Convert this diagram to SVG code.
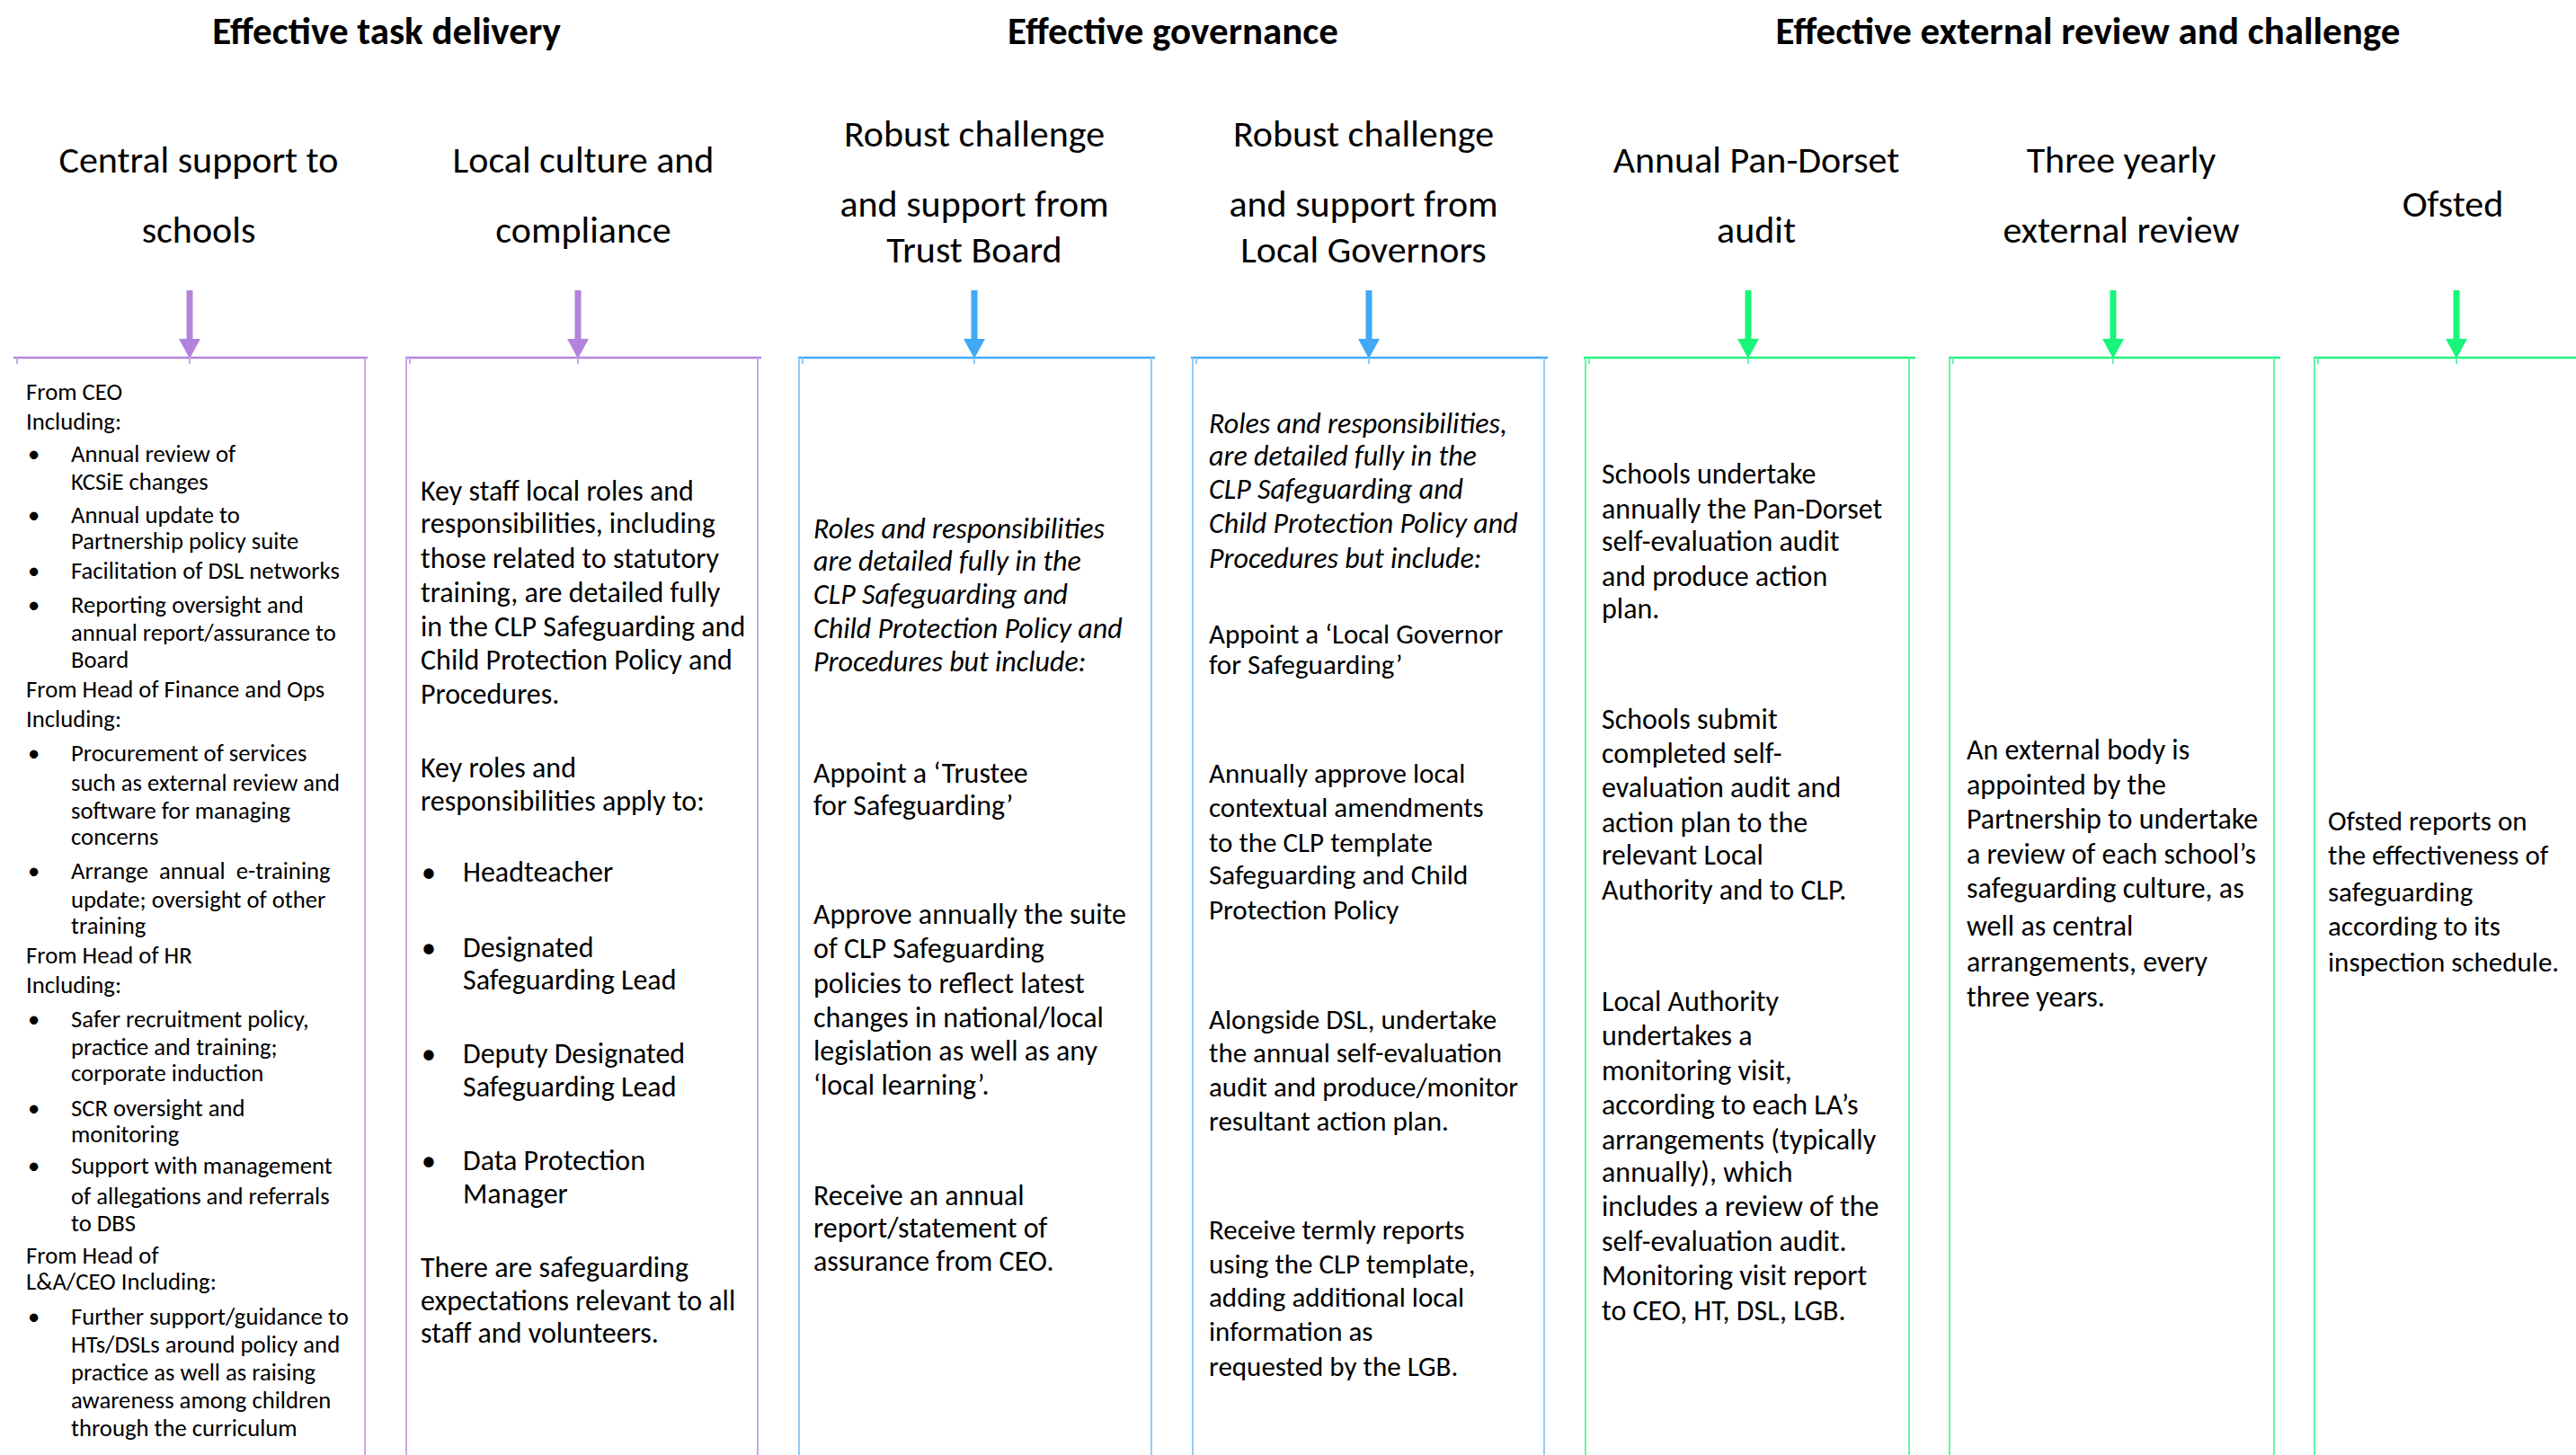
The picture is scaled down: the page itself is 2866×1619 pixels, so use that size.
<svg xmlns="http://www.w3.org/2000/svg" width="2866" height="1619" viewBox="0 0 2866 1619">
<style>
text{font-family:Carlito,"Liberation Sans",sans-serif;fill:#000}
.title{font-size:43px;font-weight:bold;text-anchor:middle}
.sub{font-size:42px;text-anchor:middle}
.b1{font-size:26.7px}
.b{font-size:32px}
.b7{font-size:31px}
.i{font-style:italic}
.pl{stroke:#b586dd;stroke-width:2.5;fill:none}
.pv{stroke:#c9a8e8;stroke-width:2;fill:none}
.bl{stroke:#45abf6;stroke-width:2.5;fill:none}
.bv{stroke:#93cbf8;stroke-width:2;fill:none}
.gl{stroke:#22f47f;stroke-width:2.5;fill:none}
.gv{stroke:#66f5a6;stroke-width:2;fill:none}
.ap{stroke:#b384db;stroke-width:7}
.ab{stroke:#3fa9f5;stroke-width:7}
.ag{stroke:#19f57a;stroke-width:7}
</style>
<defs>
<marker id="hp" markerUnits="userSpaceOnUse" markerWidth="23" markerHeight="24" viewBox="0 0 22 24" refX="0" refY="12" orient="auto"><path d="M0,0 L22,12 L0,24 z" fill="#b384db"/></marker>
<marker id="hb" markerUnits="userSpaceOnUse" markerWidth="23" markerHeight="24" viewBox="0 0 22 24" refX="0" refY="12" orient="auto"><path d="M0,0 L22,12 L0,24 z" fill="#3fa9f5"/></marker>
<marker id="hg" markerUnits="userSpaceOnUse" markerWidth="23" markerHeight="24" viewBox="0 0 22 24" refX="0" refY="12" orient="auto"><path d="M0,0 L22,12 L0,24 z" fill="#19f57a"/></marker>
</defs>
<rect width="2866" height="1619" fill="#fff"/>

<g id="section-titles">
<text class="title" x="430" y="49">Effective task delivery</text>
<text class="title" x="1305" y="49">Effective governance</text>
<text class="title" x="2323" y="49">Effective external review and challenge</text>
</g>

<g id="hdr-central"><text class="sub" x="221" y="192">Central support to</text><text class="sub" x="221" y="270">schools</text></g>
<g id="hdr-local"><text class="sub" x="649" y="192">Local culture and</text><text class="sub" x="649" y="270">compliance</text></g>
<g id="hdr-trust"><text class="sub" x="1084" y="163">Robust challenge</text><text class="sub" x="1084" y="241">and support from</text><text class="sub" x="1084" y="292">Trust Board</text></g>
<g id="hdr-governors"><text class="sub" x="1517" y="163">Robust challenge</text><text class="sub" x="1517" y="241">and support from</text><text class="sub" x="1517" y="292">Local Governors</text></g>
<g id="hdr-pandorset"><text class="sub" x="1954" y="192">Annual Pan-Dorset</text><text class="sub" x="1954" y="270">audit</text></g>
<g id="hdr-threeyearly"><text class="sub" x="2360" y="192">Three yearly</text><text class="sub" x="2360" y="270">external review</text></g>
<g id="hdr-ofsted"><text class="sub" x="2729" y="241">Ofsted</text></g>

<g id="connectors">
<line class="ap" x1="211" y1="323" x2="211" y2="377" marker-end="url(#hp)"/>
<line class="ap" x1="643" y1="323" x2="643" y2="377" marker-end="url(#hp)"/>
<line class="ab" x1="1084" y1="323" x2="1084" y2="377" marker-end="url(#hb)"/>
<line class="ab" x1="1523" y1="323" x2="1523" y2="377" marker-end="url(#hb)"/>
<line class="ag" x1="1945" y1="323" x2="1945" y2="377" marker-end="url(#hg)"/>
<line class="ag" x1="2351" y1="323" x2="2351" y2="377" marker-end="url(#hg)"/>
<line class="ag" x1="2733" y1="323" x2="2733" y2="377" marker-end="url(#hg)"/>
</g>

<g id="box-central">
<path class="pl" d="M15,398 H409"/>
<path class="pv" d="M406,398 V1619 M19,398 v7 M211,398 v7"/>
<text class="b1" x="29" y="445">From CEO</text>
<text class="b1" x="29" y="478">Including:</text>
<text class="b1" x="31" y="514">•</text><text class="b1" x="79" y="514">Annual review of</text>
<text class="b1" x="79" y="545">KCSiE changes</text>
<text class="b1" x="31" y="582">•</text><text class="b1" x="79" y="582">Annual update to</text>
<text class="b1" x="79" y="611">Partnership policy suite</text>
<text class="b1" x="31" y="644">•</text><text class="b1" x="79" y="644">Facilitation of DSL networks</text>
<text class="b1" x="31" y="682">•</text><text class="b1" x="79" y="682">Reporting oversight and</text>
<text class="b1" x="79" y="713">annual report/assurance to</text>
<text class="b1" x="79" y="743">Board</text>
<text class="b1" x="29" y="776">From Head of Finance and Ops</text>
<text class="b1" x="29" y="809">Including:</text>
<text class="b1" x="31" y="847">•</text><text class="b1" x="79" y="847">Procurement of services</text>
<text class="b1" x="79" y="880">such as external review and</text>
<text class="b1" x="79" y="911">software for managing</text>
<text class="b1" x="79" y="940">concerns</text>
<text class="b1" x="31" y="978">•</text><text class="b1" x="79" y="978" xml:space="preserve">Arrange  annual  e-training</text>
<text class="b1" x="79" y="1010">update; oversight of other</text>
<text class="b1" x="79" y="1039">training</text>
<text class="b1" x="29" y="1072">From Head of HR</text>
<text class="b1" x="29" y="1105">Including:</text>
<text class="b1" x="31" y="1143">•</text><text class="b1" x="79" y="1143">Safer recruitment policy,</text>
<text class="b1" x="79" y="1174">practice and training;</text>
<text class="b1" x="79" y="1203">corporate induction</text>
<text class="b1" x="31" y="1242">•</text><text class="b1" x="79" y="1242">SCR oversight and</text>
<text class="b1" x="79" y="1271">monitoring</text>
<text class="b1" x="31" y="1306">•</text><text class="b1" x="79" y="1306">Support with management</text>
<text class="b1" x="79" y="1340">of allegations and referrals</text>
<text class="b1" x="79" y="1370">to DBS</text>
<text class="b1" x="29" y="1406">From Head of</text>
<text class="b1" x="29" y="1435">L&amp;A/CEO Including:</text>
<text class="b1" x="31" y="1474">•</text><text class="b1" x="79" y="1474">Further support/guidance to</text>
<text class="b1" x="79" y="1505">HTs/DSLs around policy and</text>
<text class="b1" x="79" y="1536">practice as well as raising</text>
<text class="b1" x="79" y="1567">awareness among children</text>
<text class="b1" x="79" y="1598">through the curriculum</text>
</g>

<g id="box-local">
<path class="pl" d="M451,398 H847"/>
<path class="pv" d="M452,398 V1619 M843,398 V1619 M456,398 v7 M643,398 v7"/>
<text class="b" x="468" y="557">Key staff local roles and</text>
<text class="b" x="468" y="593">responsibilities, including</text>
<text class="b" x="468" y="632">those related to statutory</text>
<text class="b" x="468" y="670">training, are detailed fully</text>
<text class="b" x="468" y="708">in the CLP Safeguarding and</text>
<text class="b" x="468" y="745">Child Protection Policy and</text>
<text class="b" x="468" y="783">Procedures.</text>
<text class="b" x="468" y="865">Key roles and</text>
<text class="b" x="468" y="902">responsibilities apply to:</text>
<text class="b" x="469" y="981">•</text><text class="b" x="515" y="981">Headteacher</text>
<text class="b" x="469" y="1065">•</text><text class="b" x="515" y="1065">Designated</text>
<text class="b" x="515" y="1101">Safeguarding Lead</text>
<text class="b" x="469" y="1183">•</text><text class="b" x="515" y="1183">Deputy Designated</text>
<text class="b" x="515" y="1220">Safeguarding Lead</text>
<text class="b" x="469" y="1302">•</text><text class="b" x="515" y="1302">Data Protection</text>
<text class="b" x="515" y="1339">Manager</text>
<text class="b" x="468" y="1421">There are safeguarding</text>
<text class="b" x="468" y="1458">expectations relevant to all</text>
<text class="b" x="468" y="1494">staff and volunteers.</text>
</g>

<g id="box-trust">
<path class="bl" d="M888,398 H1285"/>
<path class="bv" d="M889,398 V1619 M1281,398 V1619 M893,398 v7 M1084,398 v7"/>
<text class="b i" x="905" y="599">Roles and responsibilities</text>
<text class="b i" x="905" y="635">are detailed fully in the</text>
<text class="b i" x="905" y="672">CLP Safeguarding and</text>
<text class="b i" x="905" y="710">Child Protection Policy and</text>
<text class="b i" x="905" y="747">Procedures but include:</text>
<text class="b" x="905" y="871">Appoint a ‘Trustee</text>
<text class="b" x="905" y="907">for Safeguarding’</text>
<text class="b" x="905" y="1028">Approve annually the suite</text>
<text class="b" x="905" y="1066">of CLP Safeguarding</text>
<text class="b" x="905" y="1105">policies to reflect latest</text>
<text class="b" x="905" y="1143">changes in national/local</text>
<text class="b" x="905" y="1180">legislation as well as any</text>
<text class="b" x="905" y="1218">‘local learning’.</text>
<text class="b" x="905" y="1341">Receive an annual</text>
<text class="b" x="905" y="1377">report/statement of</text>
<text class="b" x="905" y="1414">assurance from CEO.</text>
</g>

<g id="box-governors">
<path class="bl" d="M1325,398 H1722"/>
<path class="bv" d="M1327,398 V1619 M1718,398 V1619 M1331,398 v7 M1523,398 v7"/>
<text class="b i" x="1345" y="482">Roles and responsibilities,</text>
<text class="b i" x="1345" y="518">are detailed fully in the</text>
<text class="b i" x="1345" y="555">CLP Safeguarding and</text>
<text class="b i" x="1345" y="593">Child Protection Policy and</text>
<text class="b i" x="1345" y="632">Procedures but include:</text>
<text class="b7" x="1345" y="716">Appoint a ‘Local Governor</text>
<text class="b7" x="1345" y="750">for Safeguarding’</text>
<text class="b7" x="1345" y="871">Annually approve local</text>
<text class="b7" x="1345" y="909">contextual amendments</text>
<text class="b7" x="1345" y="948">to the CLP template</text>
<text class="b7" x="1345" y="984">Safeguarding and Child</text>
<text class="b7" x="1345" y="1023">Protection Policy</text>
<text class="b7" x="1345" y="1145">Alongside DSL, undertake</text>
<text class="b7" x="1345" y="1182">the annual self-evaluation</text>
<text class="b7" x="1345" y="1220">audit and produce/monitor</text>
<text class="b7" x="1345" y="1258">resultant action plan.</text>
<text class="b7" x="1345" y="1379">Receive termly reports</text>
<text class="b7" x="1345" y="1417">using the CLP template,</text>
<text class="b7" x="1345" y="1454">adding additional local</text>
<text class="b7" x="1345" y="1492">information as</text>
<text class="b7" x="1345" y="1531">requested by the LGB.</text>
</g>

<g id="box-pandorset">
<path class="gl" d="M1762,398 H2131"/>
<path class="gv" d="M1764,398 V1619 M2124,398 V1619 M1768,398 v7 M1945,398 v7"/>
<text class="b" x="1782" y="538">Schools undertake</text>
<text class="b" x="1782" y="577">annually the Pan-Dorset</text>
<text class="b" x="1782" y="613">self-evaluation audit</text>
<text class="b" x="1782" y="652">and produce action</text>
<text class="b" x="1782" y="688">plan.</text>
<text class="b" x="1782" y="811">Schools submit</text>
<text class="b" x="1782" y="849">completed self-</text>
<text class="b" x="1782" y="887">evaluation audit and</text>
<text class="b" x="1782" y="926">action plan to the</text>
<text class="b" x="1782" y="962">relevant Local</text>
<text class="b" x="1782" y="1001">Authority and to CLP.</text>
<text class="b" x="1782" y="1125">Local Authority</text>
<text class="b" x="1782" y="1163">undertakes a</text>
<text class="b" x="1782" y="1202">monitoring visit,</text>
<text class="b" x="1782" y="1240">according to each LA’s</text>
<text class="b" x="1782" y="1279">arrangements (typically</text>
<text class="b" x="1782" y="1315">annually), which</text>
<text class="b" x="1782" y="1353">includes a review of the</text>
<text class="b" x="1782" y="1392">self-evaluation audit.</text>
<text class="b" x="1782" y="1430">Monitoring visit report</text>
<text class="b" x="1782" y="1469">to CEO, HT, DSL, LGB.</text>
</g>

<g id="box-threeyearly">
<path class="gl" d="M2168,398 H2537"/>
<path class="gv" d="M2169,398 V1619 M2530,398 V1619 M2173,398 v7 M2351,398 v7"/>
<text class="b" x="2188" y="845">An external body is</text>
<text class="b" x="2188" y="884">appointed by the</text>
<text class="b" x="2188" y="922">Partnership to undertake</text>
<text class="b" x="2188" y="961">a review of each school’s</text>
<text class="b" x="2188" y="999">safeguarding culture, as</text>
<text class="b" x="2188" y="1041">well as central</text>
<text class="b" x="2188" y="1081">arrangements, every</text>
<text class="b" x="2188" y="1120">three years.</text>
</g>

<g id="box-ofsted">
<path class="gl" d="M2574,398 H2866"/>
<path class="gv" d="M2575,398 V1619 M2579,398 v7 M2733,398 v7"/>
<text class="b7" x="2590" y="924">Ofsted reports on</text>
<text class="b7" x="2590" y="962">the effectiveness of</text>
<text class="b7" x="2590" y="1003">safeguarding</text>
<text class="b7" x="2590" y="1041">according to its</text>
<text class="b7" x="2590" y="1081">inspection schedule.</text>
</g>
</svg>
